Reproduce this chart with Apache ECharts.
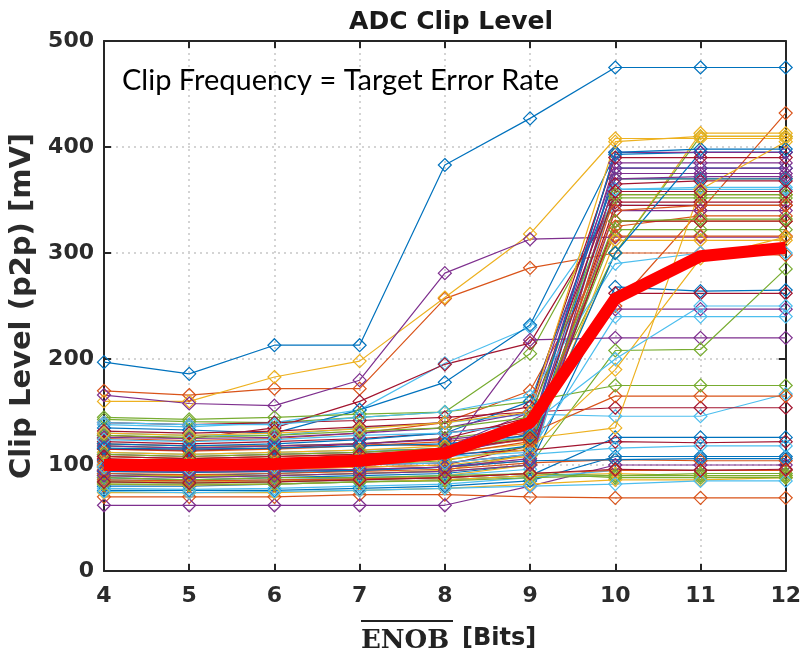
<!DOCTYPE html>
<html>
<head>
<meta charset="utf-8">
<script src="https://cdn.jsdelivr.net/npm/echarts@6/dist/echarts.min.js"></script>
<style>
html,body{margin:0;padding:0;background:#fff;}
#chart{width:804px;height:663px;}
</style>
</head>
<body>
<div id="chart"></div>
<script>
// ENOB categories (x values)
const enob = [4, 5, 6, 7, 8, 9, 10, 11, 12];
const yTicks = [0, 100, 200, 300, 400, 500];

// Individual clip-level runs (mV), one row per run
const runs = [
  [197,186,213,213,383,427,475,475,475],
  [170,166,172,172,257,286,300,300,298],
  [160,160,183,198,258,318,408,408,408],
  [166,158,156,180,281,313,315,315,315],
  [143,141,140,145,150,205,352,352,352],
  [138,136,140,152,196,230,345,345,345],
  [128,125,135,160,195,215,348,348,348],

  [135,133,130,152,178,232,393,395,395],
  [120,118,118,120,118,135,250,340,432],
  [108,106,108,110,112,120,300,413,413],
  [100,98,100,102,108,130,385,385,385],
  [118,116,118,120,125,135,300,410,410],
  [112,110,112,114,115,128,360,360,360],
  [95,95,96,98,100,118,345,345,345],

  [92,90,92,95,98,110,380,380,380],
  [125,123,125,130,140,170,316,316,316],
  [90,90,90,92,95,110,330,330,330],
  [105,103,105,108,112,125,375,375,375],
  [98,97,98,100,104,118,322,322,322],
  [130,128,128,135,140,148,146,146,167],
  [140,138,140,142,145,150,154,154,154],

  [88,86,88,90,92,100,268,264,265],
  [115,113,115,118,122,130,165,165,165],
  [85,84,85,87,90,100,370,370,370],
  [110,108,110,112,116,150,247,247,247],
  [145,143,145,148,150,160,175,175,175],
  [102,100,102,104,108,112,240,240,240],
  [122,120,122,125,130,140,262,262,262],

  [80,80,82,84,86,90,126,126,126],
  [70,70,70,72,72,70,69,69,69],
  [96,95,96,98,100,108,312,312,312],
  [100,100,102,104,110,218,220,220,220],
  [90,89,90,92,94,100,208,209,285],
  [86,85,86,88,90,96,360,362,362],
  [106,104,106,108,110,114,122,121,122],

  [76,76,76,78,80,85,108,108,108],
  [94,93,94,96,98,104,355,355,355],
  [82,81,82,84,86,90,92,90,90],
  [62,62,62,62,62,80,100,100,100],
  [84,83,84,86,88,92,90,90,90],
  [78,77,78,80,82,88,95,95,95],
  [115,114,116,120,125,145,365,368,368],

  [120,118,120,124,130,160,370,370,370],
  [108,106,108,110,115,124,325,335,335],
  [74,74,74,76,78,82,86,86,88],
  [126,125,126,130,135,150,380,380,380],
  [88,86,88,88,90,92,88,88,88],
  [140,138,138,145,150,165,290,300,300],
  [98,97,98,100,102,110,330,330,330],

  [104,102,104,106,108,118,300,395,395],
  [92,91,92,94,96,102,105,104,104],
  [100,99,100,102,105,115,190,295,315],
  [118,116,118,120,124,132,395,395,395],
  [82,82,82,84,85,88,90,92,92],
  [75,74,75,76,78,80,82,85,85],
  [132,130,132,136,140,155,390,390,390],

  [94,93,94,95,98,104,105,106,106],
  [86,85,86,87,88,92,95,95,95],
  [112,110,112,114,118,125,135,360,405],
  [95,94,95,96,98,106,340,340,340],
  [128,126,128,132,135,145,355,355,355],
  [124,122,124,128,130,138,200,250,250],
  [84,83,84,86,88,92,96,95,96],

  [116,115,116,118,120,128,395,398,398],
  [103,101,103,106,110,122,340,345,345],
  [130,128,130,134,140,150,405,410,410],
  [90,88,90,92,94,100,370,372,372],
  [110,108,110,112,116,126,330,332,332],
  [98,96,98,100,102,110,116,118,118],
  [108,106,108,110,114,125,358,358,358]
];

// Mean clip level (thick red)
const meanClip = [100,100,101,104,111,140,257,297,305];

const titleText = 'ADC Clip Level';
const noteText = 'Clip Frequency = Target Error Rate';
const yName = 'Clip Level (p2p) [mV]';

const palette = ['#0072BD','#D95319','#EDB120','#7E2F8E','#77AC30','#4DBEEE','#A2142F'];
const axisColor = '#262626';
const labelFont = 'DejaVu Sans';

const series = runs.map((r, i) => {
  const c = palette[i % palette.length];
  return {
    type: 'line',
    data: enob.map((x, j) => [x, r[j]]),
    symbol: 'diamond',
    symbolSize: 13,
    showSymbol: true,
    lineStyle: { color: c, width: 1.2 },
    itemStyle: { color: 'rgba(0,0,0,0)', borderColor: c, borderWidth: 1.2 },
    emphasis: { disabled: true },
    silent: true,
    z: 2
  };
});
series.push({
  type: 'line',
  data: enob.map((x, j) => [x, meanClip[j]]),
  symbol: 'none',
  lineStyle: { color: '#FF0000', width: 12, join: 'round' },
  silent: true,
  z: 5
});

const chart = echarts.init(document.getElementById('chart'), null, { renderer: 'canvas' });
chart.setOption({
  animation: false,
  backgroundColor: '#fff',
  title: {
    text: titleText,
    left: 446, top: 5, textAlign: 'center',
    textStyle: { fontFamily: labelFont, fontWeight: 'bold', fontSize: 25, color: '#1a1a1a' }
  },
  grid: { left: 104, right: 18, top: 41, bottom: 92, containLabel: false },
  xAxis: [{
    type: 'value', min: 4, max: 12, interval: 1,
    axisLine: { show: true, onZero: false, lineStyle: { color: axisColor, width: 2 } },
    axisTick: { show: true, inside: true, length: 7, lineStyle: { color: axisColor, width: 2 } },
    axisLabel: { fontFamily: labelFont, fontWeight: 'bold', fontSize: 22, color: '#2b2b2b', margin: 14 },
    splitLine: { show: true, lineStyle: { color: '#d4d4d4', type: [2, 4], width: 2 } }
  }, {
    type: 'value', min: 4, max: 12, interval: 1, position: 'top',
    axisLine: { show: true, onZero: false, lineStyle: { color: axisColor, width: 2 } },
    axisTick: { show: true, inside: true, length: 7, lineStyle: { color: axisColor, width: 2 } },
    axisLabel: { show: false }, splitLine: { show: false }
  }],
  yAxis: [{
    type: 'value', min: 0, max: 500, interval: 100,
    name: yName, nameLocation: 'middle', nameGap: 67, nameRotate: 90,
    nameTextStyle: { fontFamily: labelFont, fontWeight: 'bold', fontSize: 29, color: '#2b2b2b' },
    axisLine: { show: true, onZero: false, lineStyle: { color: axisColor, width: 2 } },
    axisTick: { show: true, inside: true, length: 7, lineStyle: { color: axisColor, width: 2 } },
    axisLabel: { fontFamily: labelFont, fontWeight: 'bold', fontSize: 22, color: '#2b2b2b', margin: 10 },
    splitLine: { show: true, lineStyle: { color: '#d4d4d4', type: [2, 4], width: 2 } }
  }, {
    type: 'value', min: 0, max: 500, interval: 100, position: 'right',
    axisLine: { show: true, onZero: false, lineStyle: { color: axisColor, width: 2 } },
    axisTick: { show: true, inside: true, length: 7, lineStyle: { color: axisColor, width: 2 } },
    axisLabel: { show: false }, splitLine: { show: false }
  }],
  graphic: [
    {
      type: 'text', left: 122, top: 66, z: 10,
      style: { text: noteText, fontFamily: 'Lato', fontSize: 29, fill: '#000' }
    },
    {
      type: 'text', left: 361, top: 628, z: 10,
      style: { text: 'ENOB', fontFamily: 'DejaVu Serif', fontWeight: 'bold', fontSize: 26, fill: '#222' }
    },
    {
      type: 'line', z: 10,
      shape: { x1: 361, y1: 621, x2: 453, y2: 621 },
      style: { stroke: '#222', lineWidth: 2 }
    },
    {
      type: 'text', left: 462, top: 627, z: 10,
      style: { text: '[Bits]', fontFamily: labelFont, fontWeight: 'bold', fontSize: 24, fill: '#222' }
    }
  ],
  series: series
});
</script>
</body>
</html>
